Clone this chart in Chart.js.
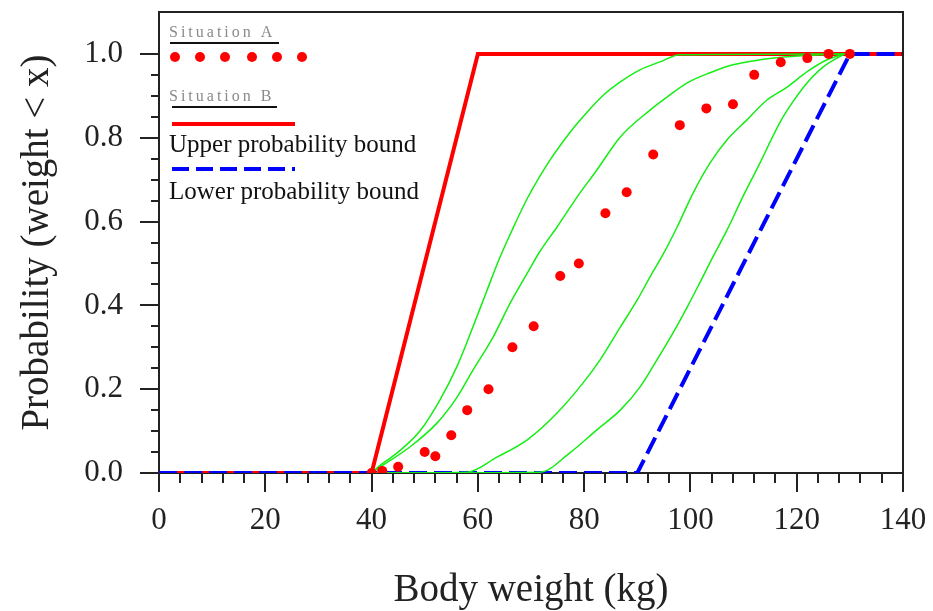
<!DOCTYPE html>
<html>
<head>
<meta charset="utf-8">
<title>Body weight probability bounds</title>
<script src="https://cdn.jsdelivr.net/npm/chart.js@4.4.1/dist/chart.umd.min.js"></script>
<style>
    html, body { margin: 0; padding: 0; background: #fff; }
    #wrap { width: 933px; height: 611px; position: relative; }
</style>
</head>
<body>
<div id="wrap"><canvas id="graph" width="933" height="611"></canvas></div>
<script>
/********
 * Data *
 ********/
// Situation A: observed points
const situationAWeight = [40, 42, 45, 50, 52, 55, 58, 62, 66.5, 70.5, 75.5, 79, 84, 88, 93, 98, 103, 108, 112, 117, 122, 126, 130];
const situationAProb   = [0, 0.005, 0.015, 0.05, 0.04, 0.09, 0.15, 0.20, 0.30, 0.35, 0.47, 0.50, 0.62, 0.67, 0.76, 0.83, 0.87, 0.88, 0.95, 0.98, 0.99, 1.0, 1.0];

// Situation A: fitted curves (green)
const curve1Weight = [40, 41, 44.8, 49.1, 52.9, 56.1, 58.5, 61.7, 64, 66.1, 69.3, 73.6, 77.3, 80.5, 83.5, 86.8, 90.5, 94.3, 98, 129];
const curve1Prob   = [0, 0.012, 0.048, 0.1, 0.175, 0.255, 0.33, 0.435, 0.51, 0.57, 0.655, 0.747, 0.812, 0.86, 0.9, 0.933, 0.962, 0.981, 0.998, 1.0];
const curve2Weight = [40, 41.6, 47.2, 52.3, 56.1, 59.1, 62.9, 66.1, 69.3, 71.5, 74.9, 78.7, 82.4, 86.8, 92.4, 95.6, 99.4, 103.7, 108, 113.1, 118.2, 124.4, 129];
const curve2Prob   = [0, 0.014, 0.062, 0.119, 0.181, 0.246, 0.325, 0.406, 0.477, 0.525, 0.587, 0.659, 0.723, 0.802, 0.866, 0.897, 0.931, 0.955, 0.974, 0.986, 0.993, 0.998, 1.0];
const curve3Weight = [40, 58, 63.6, 69.3, 74.9, 79.8, 83, 86.8, 90, 92.4, 95, 97.5, 100.5, 103.7, 106.9, 110.6, 114.4, 118.2, 121.9, 125.7, 129];
const curve3Prob   = [0, 0.002, 0.038, 0.079, 0.143, 0.215, 0.27, 0.348, 0.413, 0.468, 0.525, 0.587, 0.668, 0.74, 0.795, 0.842, 0.89, 0.921, 0.957, 0.986, 1.0];
const curve4Weight = [40, 71.7, 77.3, 82.4, 86.8, 90.5, 93.7, 96.7, 99.4, 101.8, 104.2, 106.9, 109.9, 113.1, 115, 116.9, 119.3, 121.9, 125, 129];
const curve4Prob   = [0, 0.002, 0.048, 0.103, 0.150, 0.205, 0.27, 0.334, 0.396, 0.455, 0.515, 0.58, 0.66, 0.74, 0.79, 0.838, 0.886, 0.93, 0.969, 1.0];

// Situation B: probability bounds
const upperBoundWeight = [0, 40, 60, 140];
const upperBoundProb   = [0, 0, 1, 1];
const lowerBoundWeight = [0, 90, 130, 140];
const lowerBoundProb   = [0, 0, 1, 1];

// Axes
const xTickValues = [0, 20, 40, 60, 80, 100, 120, 140];
const yTickValues = [0, 0.2, 0.4, 0.6, 0.8, 1.0];
const xTitle = 'Body weight (kg)';
const yTitle = 'Probability (weight < x)';
const legendLabels = ['Situation A', 'Situation B', 'Upper probability bound', 'Lower probability bound'];

const serif = "'Liberation Serif', 'Times New Roman', serif";
const inkColor = '#222';
const greenColor = '#14ee14';

/**
 * Zips two arrays into {x, y} points.
 */
function toPoints(xs, ys) {
    return xs.map((x, i) => ({x: x, y: ys[i]}));
}

function greenCurve(xs, ys) {
    return {
        type: 'line',
        data: toPoints(xs, ys),
        borderColor: greenColor,
        borderWidth: 1.5,
        pointRadius: 0,
        cubicInterpolationMode: 'monotone',
        fill: false
    };
}

/**
 * Minor ticks every 4 kg and every 0.05 probability, plus the top/right frame.
 */
const minorTicksPlugin = {
    id: 'minorTicks',
    afterDraw(chart) {
        const {ctx, chartArea, scales} = chart;
        ctx.save();
        ctx.strokeStyle = inkColor;
        ctx.lineWidth = 2;
        ctx.beginPath();
        for (let v = 4; v < 140; v += 4) {
            if (v % 20 === 0) continue;
            const px = Math.round(scales.x.getPixelForValue(v));
            ctx.moveTo(px, chartArea.bottom);
            ctx.lineTo(px, chartArea.bottom + 10);
        }
        for (let i = 1; i < 20; ++i) {
            if (i % 4 === 0) continue;
            const py = Math.round(scales.y.getPixelForValue(i * 0.05));
            ctx.moveTo(chartArea.left - 8, py);
            ctx.lineTo(chartArea.left, py);
        }
        ctx.stroke();
        ctx.beginPath();
        ctx.moveTo(chartArea.left, chartArea.top);
        ctx.lineTo(chartArea.right, chartArea.top);
        ctx.lineTo(chartArea.right, chartArea.bottom);
        ctx.stroke();
        ctx.restore();
    }
};

/**
 * Hand-drawn legend in the upper left of the plot.
 */
const legendPlugin = {
    id: 'customLegend',
    afterDraw(chart) {
        const {ctx, chartArea} = chart;
        const left = chartArea.left;
        const top = chartArea.top;
        ctx.save();

        ctx.font = '16px ' + serif;
        ctx.fillStyle = '#8a8a8a';
        ctx.letterSpacing = '3px';
        ctx.textBaseline = 'alphabetic';
        ctx.fillText(legendLabels[0], left + 10, top + 25);
        ctx.fillText(legendLabels[1], left + 10, top + 89);
        ctx.letterSpacing = '0px';

        ctx.strokeStyle = '#111';
        ctx.lineWidth = 2;
        ctx.beginPath();
        ctx.moveTo(left + 11, top + 31);
        ctx.lineTo(left + 120, top + 31);
        ctx.moveTo(left + 13, top + 95);
        ctx.lineTo(left + 118, top + 95);
        ctx.stroke();

        ctx.fillStyle = '#ff0000';
        [16, 41, 66, 93, 118, 143].forEach(dx => {
            ctx.beginPath();
            ctx.arc(left + dx, top + 45, 5, 0, Math.PI * 2);
            ctx.fill();
        });

        ctx.strokeStyle = '#ff0000';
        ctx.lineWidth = 4;
        ctx.beginPath();
        ctx.moveTo(left + 13, top + 112);
        ctx.lineTo(left + 136, top + 112);
        ctx.stroke();

        ctx.strokeStyle = '#0000ff';
        ctx.setLineDash([17, 7]);
        ctx.beginPath();
        ctx.moveTo(left + 13, top + 157);
        ctx.lineTo(left + 136, top + 157);
        ctx.stroke();
        ctx.setLineDash([]);

        ctx.font = '25px ' + serif;
        ctx.fillStyle = '#111';
        ctx.fillText(legendLabels[2], left + 10, top + 140);
        ctx.fillText(legendLabels[3], left + 10, top + 187);
        ctx.restore();
    }
};

const context = document.getElementById('graph').getContext('2d');

const chart = new Chart(context, {
    data: {
        datasets: [
            {
                type: 'scatter',
                data: toPoints(situationAWeight, situationAProb),
                backgroundColor: '#ff0000',
                borderWidth: 0,
                pointRadius: 5,
                pointStyle: 'circle'
            },
            greenCurve(curve1Weight, curve1Prob),
            greenCurve(curve2Weight, curve2Prob),
            greenCurve(curve3Weight, curve3Prob),
            greenCurve(curve4Weight, curve4Prob),
            {
                type: 'line',
                data: toPoints(lowerBoundWeight, lowerBoundProb),
                borderColor: '#0000ff',
                borderWidth: 4,
                borderDash: [18, 7],
                pointRadius: 0,
                tension: 0,
                fill: false
            },
            {
                type: 'line',
                data: toPoints(upperBoundWeight, upperBoundProb),
                borderColor: '#ff0000',
                borderWidth: 4,
                pointRadius: 0,
                tension: 0,
                fill: false
            }
        ]
    },
    options: {
        responsive: false,
        animation: false,
        layout: {
            padding: {top: 12, right: 30, left: 0, bottom: 0}
        },
        plugins: {
            legend: {display: false},
            tooltip: {enabled: false}
        },
        scales: {
            x: {
                type: 'linear',
                min: 0,
                max: 140,
                afterBuildTicks: scale => {
                    scale.ticks = xTickValues.map(v => ({value: v}));
                },
                afterFit: scale => {
                    scale.height = 138;
                    scale.paddingLeft = 0;
                    scale.paddingRight = 0;
                },
                ticks: {
                    autoSkip: false,
                    maxRotation: 0,
                    padding: 10,
                    color: inkColor,
                    font: {family: serif, size: 31}
                },
                grid: {
                    drawOnChartArea: false,
                    drawTicks: true,
                    tickLength: 19,
                    tickColor: inkColor,
                    lineWidth: 2
                },
                border: {display: true, color: inkColor, width: 2},
                title: {
                    display: true,
                    text: xTitle,
                    color: inkColor,
                    font: {family: serif, size: 39},
                    padding: {top: 0, bottom: -3}
                }
            },
            y: {
                type: 'linear',
                min: 0,
                max: 1.1,
                afterBuildTicks: scale => {
                    scale.ticks = yTickValues.map(v => ({value: v}));
                },
                afterFit: scale => {
                    scale.width = 159;
                    scale.paddingTop = 0;
                    scale.paddingBottom = 0;
                },
                ticks: {
                    autoSkip: false,
                    padding: 17,
                    color: inkColor,
                    font: {family: serif, size: 31},
                    callback: value => value.toFixed(1)
                },
                grid: {
                    drawOnChartArea: false,
                    drawTicks: true,
                    tickLength: 19,
                    tickColor: inkColor,
                    lineWidth: 2
                },
                border: {display: true, color: inkColor, width: 2},
                title: {
                    display: true,
                    text: yTitle,
                    color: inkColor,
                    font: {family: serif, size: 39},
                    padding: {top: 14, bottom: 0}
                }
            }
        }
    },
    plugins: [minorTicksPlugin, legendPlugin]
});
</script>
</body>
</html>
